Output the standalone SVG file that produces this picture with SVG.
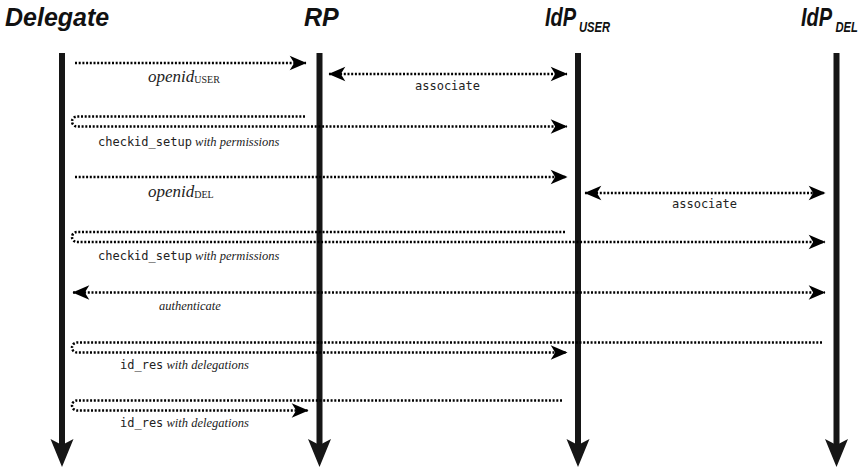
<svg xmlns="http://www.w3.org/2000/svg" width="859" height="472" viewBox="0 0 859 472">
  <style>
    .head { font-family: "Liberation Sans", Arial, sans-serif; font-weight: bold; font-style: italic; font-size: 25px; fill: #111; }
    .headsub { font-size: 14px; }
    .life { fill: #161616; }
    .msg { fill: none; stroke: #000; stroke-width: 2.5; stroke-dasharray: 2 1.7; }
    .mono { font-family: "DejaVu Sans Mono", "Liberation Mono", monospace; font-size: 12px; fill: #222; }
    .it { font-family: "Liberation Serif", "Times New Roman", serif; font-style: italic; font-size: 12.5px; fill: #222; }
    .big { font-size: 17px; }
    .sc { font-style: normal; font-size: 10px; }
  </style>
  <defs>
    <marker id="ah" markerUnits="userSpaceOnUse" markerWidth="18" markerHeight="16" refX="15" refY="7" orient="auto-start-reverse" viewBox="0 0 16 14">
      <path d="M15.5,7 L0.5,0.5 L4.5,7 L0.5,13.5 Z" fill="#000"/>
    </marker>
  </defs>

  <!-- participants -->
  <g id="delegate">
    <text class="head" x="5" y="26">Delegate</text>
    <rect class="life" x="59" y="53" width="6" height="392"/>
    <path class="life" d="M50.5,439 L62,445 L73.5,439 L62,467 Z"/>
  </g>
  <g id="rp">
    <text class="head" x="304" y="26">RP</text>
    <rect class="life" x="316.5" y="53" width="6" height="392"/>
    <path class="life" d="M308,439 L319.5,445 L331,439 L319.5,467 Z"/>
  </g>
  <g id="idp-user">
    <text class="head" transform="translate(545,26) scale(0.8,1)">IdP</text>
    <text class="head headsub" transform="translate(579,32) scale(0.8,1)">USER</text>
    <rect class="life" x="575" y="53" width="6" height="392"/>
    <path class="life" d="M566.5,439 L578,445 L589.5,439 L578,467 Z"/>
  </g>
  <g id="idp-del">
    <text class="head" transform="translate(801,26) scale(0.8,1)">IdP</text>
    <text class="head headsub" transform="translate(835.5,32) scale(0.8,1)">DEL</text>
    <rect class="life" x="833.5" y="53" width="6" height="392"/>
    <path class="life" d="M825,439 L836.5,445 L848,439 L836.5,467 Z"/>
  </g>

  <!-- messages -->
  <g id="connectors">
    <path class="msg" d="M75,63 H306" marker-end="url(#ah)"/>
    <path class="msg" d="M329,74 H567" marker-start="url(#ah)" marker-end="url(#ah)"/>
    <path class="msg" d="M305,116.5 H77 A5,5 0 0 0 77,126.5 H567" marker-end="url(#ah)"/>
    <path class="msg" d="M75,177 H567" marker-end="url(#ah)"/>
    <path class="msg" d="M585,193 H825" marker-start="url(#ah)" marker-end="url(#ah)"/>
    <path class="msg" d="M565,232 H77 A5,5 0 0 0 77,242 H825" marker-end="url(#ah)"/>
    <path class="msg" d="M73,292.5 H825" marker-start="url(#ah)" marker-end="url(#ah)"/>
    <path class="msg" d="M822,342.5 H77 A5,5 0 0 0 77,352.5 H567" marker-end="url(#ah)"/>
    <path class="msg" d="M562,400.5 H77 A5,5 0 0 0 77,410.5 H308" marker-end="url(#ah)"/>
  </g>

  <!-- message labels -->
  <g id="labels">
    <text class="it big" x="148" y="82">openid<tspan class="sc" dy="1">USER</tspan></text>
    <text class="mono" x="415" y="90">associate</text>
    <text x="98" y="146"><tspan class="mono">checkid_setup</tspan><tspan class="it"> with permissions</tspan></text>
    <text class="it big" x="148" y="197">openid<tspan class="sc" dy="1">DEL</tspan></text>
    <text class="mono" x="672" y="208">associate</text>
    <text x="98" y="260"><tspan class="mono">checkid_setup</tspan><tspan class="it"> with permissions</tspan></text>
    <text class="it" x="159" y="310">authenticate</text>
    <text x="120" y="369"><tspan class="mono">id_res</tspan><tspan class="it"> with delegations</tspan></text>
    <text x="120" y="427"><tspan class="mono">id_res</tspan><tspan class="it"> with delegations</tspan></text>
  </g>
</svg>
